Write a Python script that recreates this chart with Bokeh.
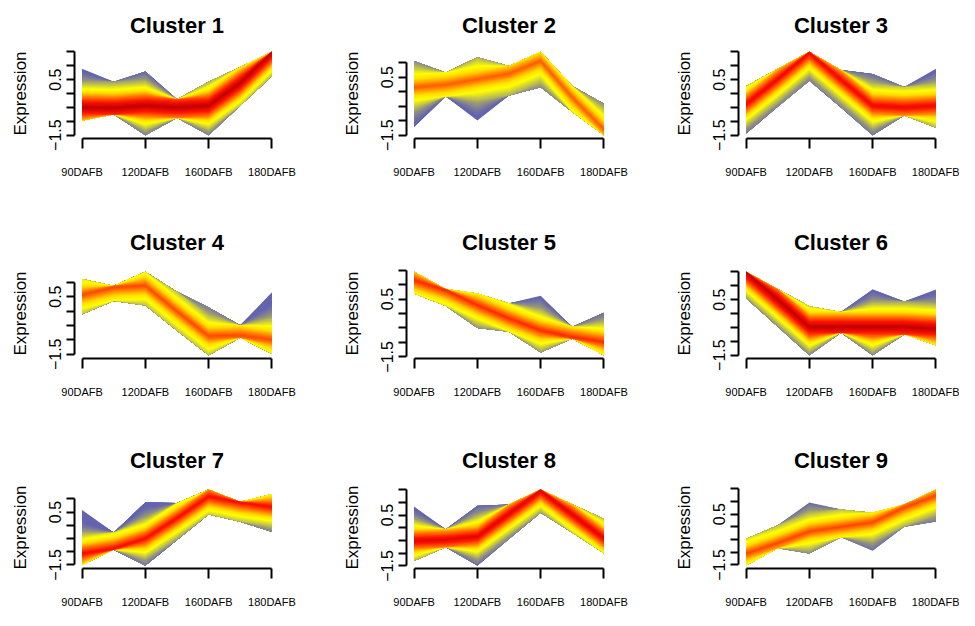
import numpy as np
from bokeh.plotting import figure
from bokeh.layouts import column, row
from bokeh.models import FixedTicker, Range1d
from bokeh.embed import file_html
from bokeh.resources import INLINE

# ---------------- data ----------------
time_labels = ["90DAFB", "120DAFB", "160DAFB", "180DAFB"]
time_index = [1, 2, 3, 4]
# gene-profile envelope read at each time point and half-way between them
x_pos = [1, 1.5, 2, 2.5, 3, 3.5, 4]

cluster_names = ["Cluster 1", "Cluster 2", "Cluster 3", "Cluster 4", "Cluster 5",
                 "Cluster 6", "Cluster 7", "Cluster 8", "Cluster 9"]

c1_upper = [0.89, 0.42, 0.79, -0.21, 0.42, 0.95, 1.50]
c1_core  = [-0.50, -0.52, -0.44, -0.50, -0.44, 0.38, 1.48]
c1_lower = [-0.97, -0.76, -1.50, -0.88, -1.50, -0.44, 0.62]

c2_upper = [1.06, 0.66, 1.19, 0.89, 1.375, 0.20, -0.42]
c2_core  = [0.15, 0.24, 0.43, 0.62, 1.06, -0.20, -1.30]
c2_lower = [-1.22, -0.17, -0.99, -0.13, 0.15, -0.70, -1.50]

c3_upper = [0.26, 0.89, 1.50, 0.85, 0.70, 0.23, 0.89]
c3_core  = [-0.38, 0.52, 1.47, 0.50, -0.44, -0.50, -0.44]
c3_lower = [-1.44, -0.48, 0.46, -0.50, -1.50, -0.79, -1.23]

c4_upper = [1.11, 0.88, 1.36, 0.67, 0.12, -0.49, 0.65]
c4_core  = [0.56, 0.82, 0.88, -0.01, -0.87, -0.84, -0.99]
c4_lower = [-0.11, 0.35, 0.19, -0.68, -1.53, -0.93, -1.48]

c5_upper = [1.44, 0.85, 0.69, 0.35, 0.61, -0.46, 0.03]
c5_core  = [1.15, 0.80, 0.29, -0.17, -0.58, -0.81, -0.98]
c5_lower = [0.69, 0.26, -0.50, -0.63, -1.35, -0.87, -1.44]

c6_upper = [1.50, 0.88, 0.26, 0.05, 0.86, 0.43, 0.86]
c6_core  = [1.48, 0.50, -0.49, -0.49, -0.49, -0.49, -0.55]
c6_lower = [0.55, -0.48, -1.50, -0.69, -1.50, -0.76, -1.14]

c7_upper = [0.58, -0.27, 0.86, 0.84, 1.35, 0.89, 1.18]
c7_core  = [-1.07, -0.88, -0.50, 0.27, 1.09, 0.86, 0.69]
c7_lower = [-1.50, -0.93, -1.52, -0.56, 0.41, 0.13, -0.25]

c8_upper = [0.83, -0.06, 0.86, 0.91, 1.50, 0.92, 0.35]
c8_core  = [-0.51, -0.47, -0.35, 0.55, 1.45, 0.52, -0.41]
c8_lower = [-1.30, -0.77, -1.48, -0.44, 0.59, -0.20, -1.00]

c9_upper = [-0.47, 0.06, 0.96, 0.68, 0.56, 0.88, 1.47]
c9_core  = [-1.05, -0.64, -0.18, 0.00, 0.18, 0.76, 1.23]
c9_lower = [-1.52, -0.84, -1.05, -0.41, -0.94, 0.00, 0.21]

uppers = [c1_upper, c2_upper, c3_upper, c4_upper, c5_upper, c6_upper, c7_upper, c8_upper, c9_upper]
cores = [c1_core, c2_core, c3_core, c4_core, c5_core, c6_core, c7_core, c8_core, c9_core]
lowers = [c1_lower, c2_lower, c3_lower, c4_lower, c5_lower, c6_lower, c7_lower, c8_lower, c9_lower]

# highest membership reached in each cluster's core, and spread at which it fades out
core_membership = [1.0, 0.75, 0.90, 0.78, 0.82, 1.0, 0.88, 0.93, 0.78]
fade_spread = [1.30, 1.30, 1.25, 1.25, 1.15, 1.30, 1.20, 1.25, 1.25]

y_ticks_all = [-1.5, -1.0, -0.5, 0.0, 0.5, 1.0, 1.5]
y_tick_text = {-1.5: "\u22121.5", 0.5: "0.5"}

# ---------------- styling ----------------
FONT = "Liberation Sans"
stops = [(0.00, (100, 100, 176)), (0.12, (120, 120, 156)), (0.25, (152, 152, 120)),
         (0.38, (208, 208, 58)), (0.48, (255, 255, 0)), (0.58, (255, 222, 0)),
         (0.70, (255, 122, 0)), (0.84, (255, 18, 0)), (1.00, (186, 0, 0))]


def membership_color(m):
    m = min(max(m, 0.0), 1.0)
    for (a, ca), (b, cb) in zip(stops[:-1], stops[1:]):
        if m <= b:
            t = (m - a) / (b - a)
            c = [round(ca[i] + (cb[i] - ca[i]) * t) for i in range(3)]
            return "#%02x%02x%02x" % tuple(c)
    return "#%02x%02x%02x" % stops[-1][1]


col_w = [332, 332, 295]
row_h = [214, 218, 178]
row_top = [48, 54, 54]
title_standoff = [21, 27, 27]
B_LEFT, FRAME_W, FRAME_H = 74, 205, 90

figs = []
for k in range(9):
    r, c = divmod(k, 3)
    U = np.array(uppers[k], float)
    C = np.array(cores[k], float)
    L = np.array(lowers[k], float)
    ymin, ymax = L.min(), U.max()
    ext = 0.04 * (ymax - ymin)
    p = figure(width=col_w[c], height=row_h[r],
               x_range=Range1d(0.88, 4.12), y_range=Range1d(ymin - ext, ymax + ext),
               output_backend="svg", toolbar_location=None, tools="",
               min_border_left=B_LEFT, min_border_right=col_w[c] - B_LEFT - FRAME_W,
               min_border_top=row_top[r], min_border_bottom=row_h[r] - row_top[r] - FRAME_H)
    p.outline_line_color = None
    p.grid.visible = False
    p.background_fill_color = "white"
    p.border_fill_color = "white"

    dmax = max((U - C).max(), (C - L).max())
    for d in np.linspace(dmax, 0.012, 44):
        up = np.minimum(U, C + d)
        lo = np.maximum(L, C - d)
        col = membership_color(core_membership[k] * (1 - d / fade_spread[k]))
        p.varea(x=x_pos, y1=lo, y2=up, fill_color=col, fill_alpha=1.0)

    # title, centred over the plot region
    p.title.text = cluster_names[k]
    p.title.text_font = FONT
    p.title.text_font_style = "bold"
    p.title.text_font_size = "22px"
    p.title.text_color = "black"
    p.title.align = "center"
    p.title.standoff = title_standoff[r]

    # x axis
    xa = p.xaxis[0]
    xa.ticker = FixedTicker(ticks=time_index)
    xa.major_label_overrides = {t: lab for t, lab in zip(time_index, time_labels)}
    xa.bounds = (1, 4)
    xa.major_label_text_font = FONT
    xa.major_label_text_font_size = "11px"
    xa.major_label_standoff = 17

    # y axis
    ya = p.yaxis[0]
    ticks = [t for t in y_ticks_all if ymin - ext <= t <= ymax + ext]
    ya.ticker = FixedTicker(ticks=ticks)
    ya.major_label_overrides = {t: y_tick_text.get(t, "") for t in ticks}
    ya.bounds = (min(ticks), max(ticks))
    ya.major_label_orientation = "parallel"
    ya.major_label_text_font = FONT
    ya.major_label_text_font_size = "16px"
    ya.major_label_standoff = 5
    ya.axis_label = "Expression"
    ya.axis_label_text_font = FONT
    ya.axis_label_text_font_style = "normal"
    ya.axis_label_text_font_size = "17px"
    ya.axis_label_text_color = "black"
    ya.axis_label_standoff = 17

    for ax, tick_len in ((xa, 10), (ya, 8)):
        ax.axis_line_width = 2
        ax.axis_line_color = "black"
        ax.major_tick_line_width = 2
        ax.major_tick_line_color = "black"
        ax.major_tick_out = tick_len
        ax.major_tick_in = 0
        ax.minor_tick_line_color = None
        ax.major_label_text_color = "black"
    figs.append(p)

layout = column(row(figs[0:3]), row(figs[3:6]), row(figs[6:9]))

open("out.html", "w").write(file_html(layout, INLINE))
